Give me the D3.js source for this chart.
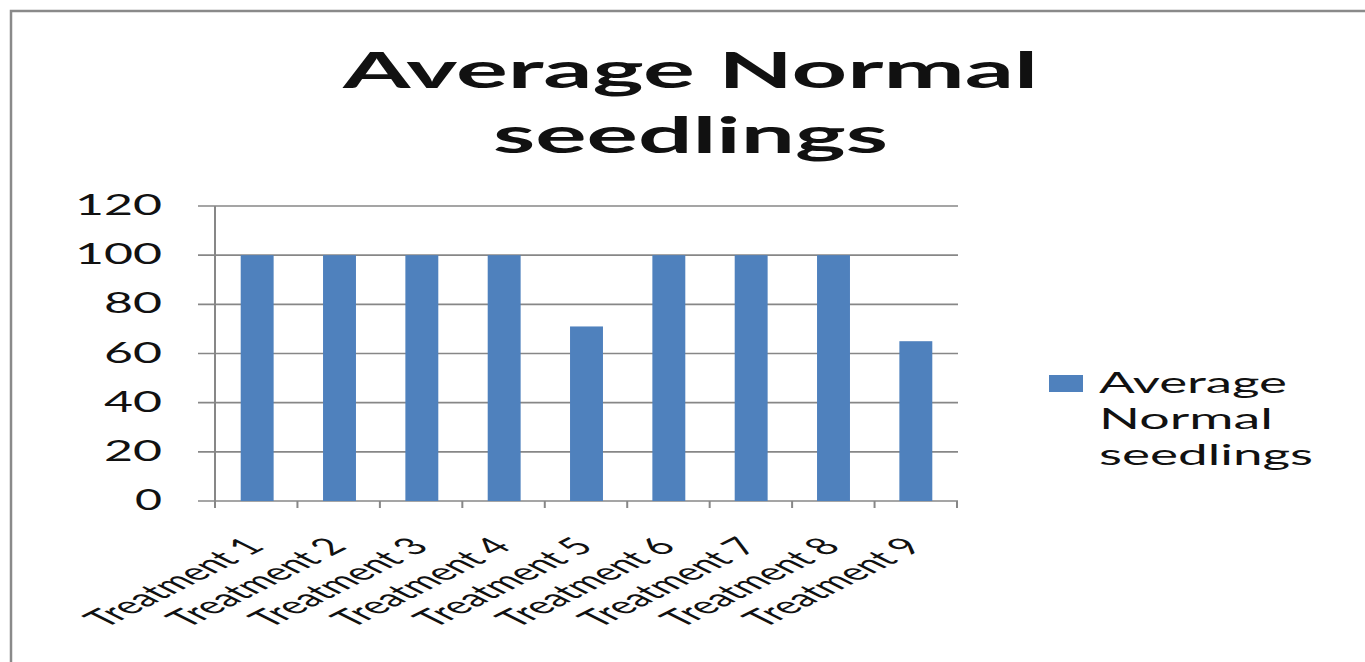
<!DOCTYPE html>
<html>
<head>
<meta charset="utf-8">
<script src="https://cdn.jsdelivr.net/npm/d3@7"></script>
<style>
  html, body { margin: 0; padding: 0; background: #fff; }
  svg { display: block; }
  text { font-family: Lato, "Open Sans", sans-serif; fill: #111; }
</style>
</head>
<body>
<svg id="chart" width="1365" height="662"></svg>
<script>
// Chart data
const categories = ["Treatment 1", "Treatment 2", "Treatment 3", "Treatment 4", "Treatment 5",
                    "Treatment 6", "Treatment 7", "Treatment 8", "Treatment 9"];
const seriesName = "Average Normal seedlings";
const values = [100, 100, 100, 100, 71, 100, 100, 100, 65];
const yTicks = [0, 20, 40, 60, 80, 100, 120];
const titleLines = ["Average Normal", "seedlings"];
const legendLines = ["Average", "Normal", "seedlings"];

const svg = d3.select("#chart");
const W = 1365, H = 662;
const barColor = "#4f81bd";
const lineColor = "#878787";
const stretch = 2.0; // horizontal stretch applied to the rotated category labels

// Outer chart frame
svg.append("rect").attr("x", 0).attr("y", 0).attr("width", W).attr("height", H).attr("fill", "#fff");
svg.append("path")
  .attr("d", `M11,${H + 5} L11,11 L${W + 5},11`)
  .attr("fill", "none").attr("stroke", "#8a8a8a").attr("stroke-width", 2.5);

// Plot area
const plot = { left: 215, right: 957, top: 206, bottom: 501 };

const x = d3.scaleBand()
  .domain(categories)
  .range([plot.left + 1, plot.right])
  .paddingInner(0.6)
  .paddingOuter(0.3);

const y = d3.scaleLinear().domain([0, 120]).range([plot.bottom, plot.top]);

// Horizontal gridlines (with their short tick extension to the left of the axis)
svg.append("g").selectAll("line").data(yTicks).join("line")
  .attr("x1", plot.left - 17).attr("x2", plot.right + 1)
  .attr("y1", d => y(d)).attr("y2", d => y(d))
  .attr("stroke", lineColor).attr("stroke-width", 1.6);

// Y axis line
svg.append("line")
  .attr("x1", plot.left).attr("x2", plot.left)
  .attr("y1", plot.top).attr("y2", plot.bottom + 7)
  .attr("stroke", lineColor).attr("stroke-width", 2);

// X axis tick marks at category boundaries
const boundaries = d3.range(categories.length + 1).map(i => plot.left + (plot.right - plot.left) * i / categories.length);
svg.append("g").selectAll("line").data(boundaries).join("line")
  .attr("x1", d => d).attr("x2", d => d)
  .attr("y1", plot.bottom).attr("y2", plot.bottom + 7)
  .attr("stroke", lineColor).attr("stroke-width", 2);

// Bars
svg.append("g").selectAll("rect").data(values).join("rect")
  .attr("x", (d, i) => x(categories[i]))
  .attr("width", x.bandwidth())
  .attr("y", d => y(d))
  .attr("height", d => y(0) - y(d))
  .attr("fill", barColor);

// Y tick labels
const yLabelWidth = { 1: 27, 2: 58, 3: 87 };
svg.append("g").selectAll("text").data(yTicks).join("text")
  .attr("x", d => 162 - yLabelWidth[String(d).length])
  .attr("y", d => y(d) + 9)
  .attr("font-size", 28)
  .attr("textLength", d => yLabelWidth[String(d).length])
  .attr("lengthAdjust", "spacingAndGlyphs")
  .text(d => d);

// Category labels, rotated and stretched
svg.append("g").selectAll("text").data(categories).join("text")
  .attr("transform", d => `translate(${x(d) + x.bandwidth() / 2 + 9},548) scale(${stretch},1) rotate(-45)`)
  .attr("text-anchor", "end")
  .attr("font-size", 24)
  .attr("textLength", 114)
  .attr("lengthAdjust", "spacingAndGlyphs")
  .text(d => d);

// Title
const titleX = [343, 493], titleY = [88, 153], titleW = [695, 395];
svg.append("g").selectAll("text").data(titleLines).join("text")
  .attr("x", (d, i) => titleX[i])
  .attr("y", (d, i) => titleY[i])
  .attr("font-size", 50)
  .attr("font-weight", 700)
  .attr("textLength", (d, i) => titleW[i])
  .attr("lengthAdjust", "spacingAndGlyphs")
  .text(d => d);

// Legend
const legend = svg.append("g").attr("aria-label", seriesName);
legend.append("rect")
  .attr("x", 1049).attr("y", 375).attr("width", 34).attr("height", 17)
  .attr("fill", barColor);
const legendW = [188, 174, 214];
legend.selectAll("text").data(legendLines).join("text")
  .attr("x", 1099)
  .attr("y", (d, i) => 393 + i * 36)
  .attr("font-size", 29)
  .attr("textLength", (d, i) => legendW[i])
  .attr("lengthAdjust", "spacingAndGlyphs")
  .text(d => d);
</script>
</body>
</html>
